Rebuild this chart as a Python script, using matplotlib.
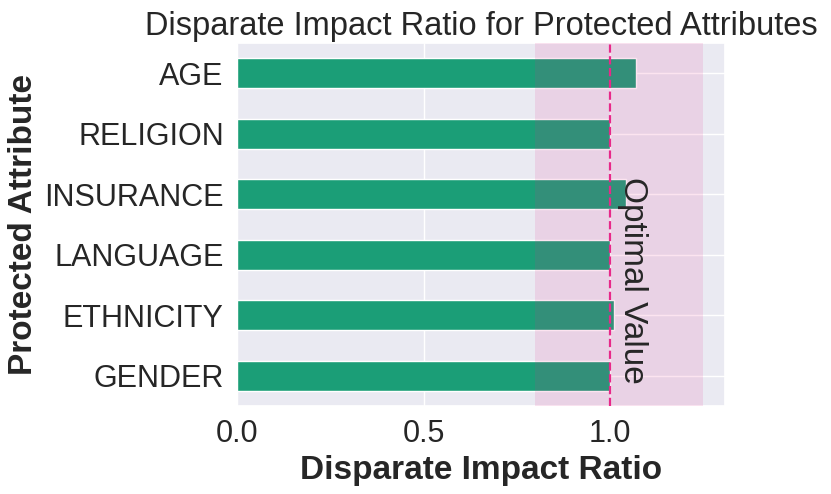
import matplotlib
matplotlib.use('Agg')
import matplotlib.pyplot as plt
import seaborn as sns
import pandas as pd

sns.set_theme(style='darkgrid')
plt.rcParams['font.family'] = ['Liberation Sans', 'DejaVu Sans']

attributes = ['GENDER', 'ETHNICITY', 'LANGUAGE', 'INSURANCE', 'RELIGION', 'AGE']
di_ratio = [1.00, 1.01, 1.00, 1.043, 1.00, 1.07]

df = pd.DataFrame({'ratio': di_ratio}, index=attributes)

fig = plt.figure(figsize=(8.31, 4.94), dpi=100)
ax = fig.add_axes([237/831, 1-406/494, (725-237)/831, (406-43)/494])

df['ratio'].plot.barh(ax=ax, color='#1b9e77', width=0.5, edgecolor='white')
ax.axvspan(0.8, 1.25, color='#e7298a', alpha=0.12, lw=0, zorder=3)
ax.axvline(1.0, color='#e7298a', linestyle='--', lw=1.6, zorder=4)
ax.text(1.018, 1.57, 'Optimal Value', rotation=270, ha='left', va='center',
        fontsize=24, color='#262626')

ax.set_xlim(0, 1.308)
ax.set_ylim(-0.5, 5.5)
ax.set_xticks([0.0, 0.5, 1.0])
ax.tick_params(labelsize=22)
ax.set_title('Disparate Impact Ratio for Protected Attributes', fontsize=23.5, pad=6)
ax.set_xlabel('Disparate Impact Ratio', fontsize=24, fontweight='bold')
ax.set_ylabel('Protected Attribute', fontsize=24, fontweight='bold')

fig.savefig('out.png', dpi=100)
